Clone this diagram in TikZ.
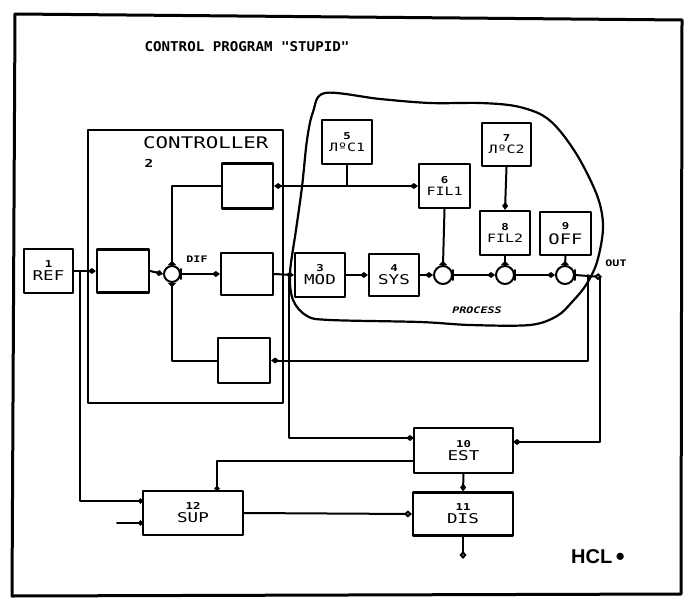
\documentclass[tikz,border=0pt]{standalone}
\usepackage{fontspec}
\newfontfamily\plotfont[FakeStretch=1.3]{DejaVu Sans Mono}
\newfontfamily\titlefont[FakeStretch=1.05]{DejaVu Sans Mono}
\newfontfamily\hclfont{Liberation Sans}
\usetikzlibrary{arrows.meta,calc}
\newcommand\blknum[1]{{\bfseries\fontsize{9.5}{9.5}\selectfont #1}}
\tikzset{
  blk/.style={draw, line width=2.2pt, inner sep=0pt, align=center,
    font=\plotfont\fontsize{13.5}{14}\selectfont},
  smallblk/.style={blk, font=\plotfont\fontsize{11.5}{13}\selectfont},
  sumj/.style={draw, circle, line width=2pt, minimum size=18pt, inner sep=0pt},
  dm/.style={-{Diamond[length=8pt,width=6pt]}},
  dmboth/.style={{Diamond[length=8pt,width=6pt]}-{Diamond[length=8pt,width=6pt]}},
  tri/.style={-{Triangle[reversed,length=4pt,width=8pt]}},
  oc/.style={-{Circle[open,length=5pt,width=5pt]}},
  od/.style={-{Diamond[open,length=8pt,width=7pt]}},
  wire/.style={line width=2pt},
  lbl/.style={inner sep=0pt, font=\plotfont\bfseries\fontsize{9}{9}\selectfont}
}
\begin{document}
\begin{tikzpicture}[x=1pt,y=-1pt,line join=round,line cap=round]
\useasboundingbox (0,0) rectangle (685,607);
% outer frame
\draw[line width=3pt] (15,14) -- (682,20) -- (681,594) -- (12,596) -- cycle;
% title
\node (title) at (247,47) {\titlefont\bfseries\fontsize{13.5}{13.5}\selectfont CONTROL PROGRAM "STUPID"};
% controller box
\node[draw, line width=2pt, minimum width=195pt, minimum height=273pt, inner sep=0pt] (ctrl) at (185.5,266.5) {};
\node[anchor=west, inner sep=0pt, font=\plotfont\fontsize{16}{16}\selectfont] (ctrltxt) at (143,143) {CONTROLLER};
\node[lbl, font=\plotfont\bfseries\fontsize{11}{11}\selectfont] (ctrlnum) at (149,163) {2};
% process blob
\draw[line width=2.2pt] plot[smooth cycle, tension=0.55] coordinates {
 (325,93) (380,99) (430,103) (480,103) (515,106) (542,115) (560,131) (580,160)
 (598,198) (603,228) (597,262) (586,285) (572,302) (557,316) (530,325) (470,325)
 (420,322) (330,320) (307,316) (293,300) (290,273) (296,230) (302,187) (307,140) (313,112)};
\node[inner sep=0pt, font=\plotfont\itshape\bfseries\fontsize{9}{9}\selectfont] (proc) at (477,310) {PROCESS};
% blocks
\node[blk, minimum width=49pt, minimum height=44pt] (ref) at (48.5,271) {\blknum{1}\\[-1pt]REF};
\node[blk, minimum width=52pt, minimum height=43pt] (cin) at (123,271) {};
\node[blk, minimum width=51pt, minimum height=45pt] (ctop) at (247.5,186) {};
\node[blk, minimum width=52pt, minimum height=42pt] (cmid) at (247,274) {};
\node[blk, minimum width=52pt, minimum height=45pt] (cbot) at (244,360.5) {};
\node[sumj, minimum size=16pt] (dif) at (172,274) {};
\node[lbl] (diflbl) at (197,259) {DIF};
\node[blk, minimum width=50pt, minimum height=44pt] (mod) at (320,275) {\blknum{3}\\[-1pt]MOD};
\node[blk, minimum width=50pt, minimum height=42pt] (sys) at (394,275) {\blknum{4}\\[-1pt]SYS};
\node[smallblk, minimum width=50pt, minimum height=44pt] (d1) at (347,142) {\blknum{5}\\[-1pt]ЛºC1};
\node[smallblk, minimum width=51pt, minimum height=44pt] (fil1) at (444.5,186) {\blknum{6}\\[-1pt]FIL1};
\node[smallblk, minimum width=49pt, minimum height=43pt] (d2) at (506.5,144.5) {\blknum{7}\\[-1pt]ЛºC2};
\node[smallblk, minimum width=50pt, minimum height=44pt] (fil2) at (505,233) {\blknum{8}\\[-1pt]FIL2};
\node[blk, minimum width=51pt, minimum height=43pt, font=\plotfont\fontsize{14.5}{15}\selectfont] (off) at (565.5,233.5) {\blknum{9}\\[-0.5pt]OFF};
\node[sumj] (s1) at (443,275) {};
\node[sumj] (s2) at (505,275) {};
\node[sumj] (s3) at (565,275) {};
\coordinate (out) at (602,277);
\node[lbl] (outlbl) at (616,263) {OUT};
\node[blk, minimum width=99pt, minimum height=45pt] (est) at (463.5,450.5) {\blknum{10}\\[-1pt]EST};
\node[blk, minimum width=100pt, minimum height=43pt] (dis) at (463,514) {\blknum{11}\\[-1pt]DIS};
\node[blk, minimum width=100pt, minimum height=44pt] (sup) at (193,513) {\blknum{12}\\[-1pt]SUP};
\coordinate (gnd) at (463,559);
\node[anchor=west, inner sep=0pt, font=\hclfont\bfseries\fontsize{20}{20}\selectfont] (hcl) at (571,557) {HCL\,\raisebox{0.25ex}{\scalebox{0.9}{$\bullet$}}};
% ports
\coordinate (rb) at (80,271);
\coordinate (supin1) at (143,501);
\coordinate (supin2) at (143,523);
\coordinate (supx) at (117,523);
\coordinate (suptop) at (217,491);
\coordinate (estin1) at (414,438);
\coordinate (estin2) at (414,461);
\coordinate (estout) at (513,442);
\coordinate (jm) at (289,274);
\coordinate (j1) at (347,186);
\coordinate (fb1) at (588,275);
\coordinate (fb2) at (600,277);
% connectors
\draw[wire,dm] (ref.east) -- (cin.west);
\draw[wire,oc] (rb) |- (supin1);
\draw[wire,oc] (supx) -- (supin2);
\draw[wire,dm] (cin.east) -- (dif.west);
\draw[wire] (dif.east) ++(0,-5) -- ++(0,10);
\draw[wire,dm] (dif.east) -- (cmid.west);
\draw[wire,tri] (ctop.west) -| (dif.north);
\draw[wire,tri] (cbot.west) -| (dif.south);
\draw[wire,dm] (cmid.east) -- (mod.west);
\draw[wire,dm] (jm) |- (estin1);
\draw[wire] (d1.south) -- (j1);
\draw[wire,dmboth] (ctop.east) -- (fil1.west);
\draw[wire,dm] (mod.east) -- (sys.west);
\draw[wire,dm] (sys.east) -- (s1.west);
\draw[wire,dm] (s1.east) -- (s2.west);
\draw[wire,dm] (s2.east) -- (s3.west);
\foreach \s in {s1,s2,s3} {\draw[wire] (\s.east) ++(0,-5) -- ++(0,10);}
\draw[wire,od] (s3.east) -- (out);
\draw[wire,tri] (fil1.south) -- (s1.north);
\draw[wire,dm] (d2.south) -- (fil2.north);
\draw[wire,tri] (fil2.south) -- (s2.north);
\draw[wire,tri] (off.south) -- (s3.north);
\draw[wire,dm] (fb1) |- (cbot.east);
\draw[wire,dm] (fb2) |- (estout);
\draw[wire,{Circle[open,length=5pt,width=5pt]}-] (suptop) |- (estin2);
\draw[wire,dm] (est.south) -- (dis.north);
\draw[wire,od] (sup.east) -- (dis.west);
\draw[wire,od] (dis.south) -- (gnd);
\end{tikzpicture}
\end{document}
